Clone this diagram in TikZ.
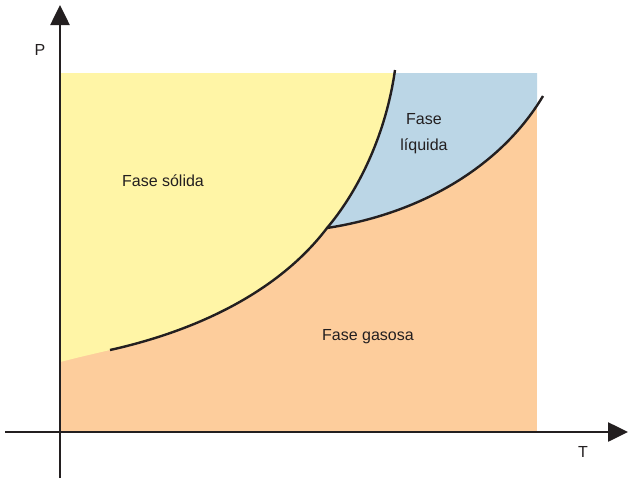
\documentclass[tikz,border=0pt]{standalone}
\usepackage{fontspec}
\setmainfont{Liberation Sans}
\usetikzlibrary{arrows.meta,positioning,calc}
\definecolor{solidyellow}{RGB}{255,245,166}
\definecolor{gasorange}{RGB}{253,205,156}
\definecolor{liquidblue}{RGB}{187,214,230}
\definecolor{inkdark}{RGB}{35,31,32}

\begin{document}
\begin{tikzpicture}[x=1pt, y=-1pt,
    axis/.style={line width=2.6pt, inkdark, -{Triangle[length=20pt, width=19pt]}},
    curve/.style={line width=2.4pt, inkdark},
    lbl/.style={font=\fontsize{16}{26}\selectfont, text=inkdark, inner sep=0pt, align=center}
]
    \useasboundingbox (0,0) rectangle (629,480);

    % === Phase regions ===
    \coordinate (triple) at (327,228);
    \coordinate (subl) at (110,350);
    \coordinate (melt) at (395,70);
    \coordinate (vap) at (543,96);

    \begin{scope}
        \clip (60,73) rectangle (537,432);
        \fill[gasorange] (60,73) rectangle (537,432);
        \fill[solidyellow] (60,362) .. controls (80,357) .. (subl)
            .. controls (200,330) and (280,290) .. (triple)
            .. controls (355,195) and (385,140) .. (melt)
            -- (395,50) -- (60,50) -- cycle;
        \fill[liquidblue] (triple)
            .. controls (355,195) and (385,140) .. (melt)
            -- (395,50) -- (580,50) -- (580,96) -- (vap)
            .. controls (505,160) and (430,212) .. (triple) -- cycle;
    \end{scope}

    % === Coexistence curves ===
    \draw[curve] (subl) .. controls (200,330) and (280,290) .. (triple)
        .. controls (355,195) and (385,140) .. (melt);
    \draw[curve] (triple) .. controls (430,212) and (505,160) .. (vap);

    % === Axes ===
    \coordinate (origin) at (60,432);
    \draw[axis] (origin |- 0,478) -- (origin |- 0,5);
    \draw[axis] (origin -| 5,0) -- (origin -| 628,0);
    \node[lbl] (plabel) at (40,50) {P};
    \node[lbl] (tlabel) at (583,452) {T};

    % === Labels ===
    \node[lbl] (solid) at (163,181) {Fase sólida};
    \node[lbl] (liquid) at (424,134) {Fase\\líquida};
    \node[lbl] (gas) at (368,337) {Fase gasosa};
\end{tikzpicture}
\end{document}
